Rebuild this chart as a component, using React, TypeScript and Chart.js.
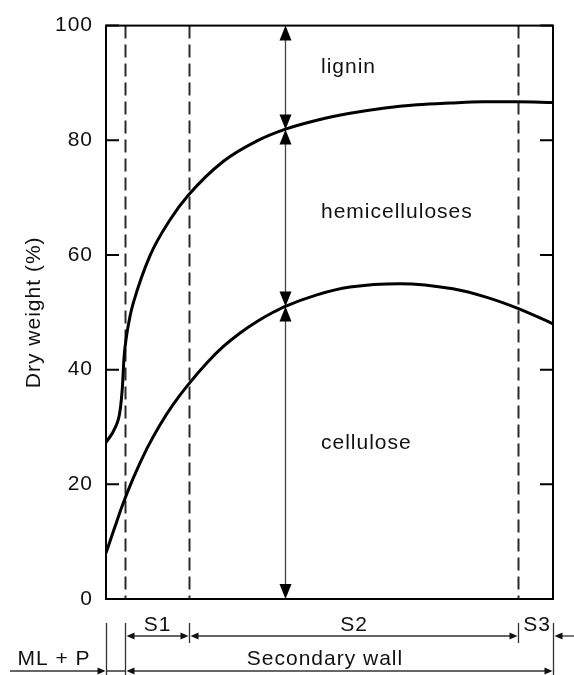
import React, { useEffect, useRef } from 'react';
import { Chart, registerables } from 'chart.js';

Chart.register(...registerables);

// ---- data (x in % of wall thickness across plot, y in % dry weight) ----
const Y_TICKS = [0, 20, 40, 60, 80, 100];

const UPPER_X = [0, 2.0, 3.1, 3.7, 4.0, 4.6, 5.4, 6.1, 9.8, 14.3, 18.4, 26.2, 33.8, 40.0, 47.2, 54.6, 62.0, 69.6, 77.0, 84.3, 91.9, 100];
const UPPER_Y = [27.3, 29.8, 32.6, 37.3, 41.8, 45.9, 49.4, 51.6, 59.8, 66.1, 70.4, 76.3, 79.9, 81.9, 83.5, 84.7, 85.6, 86.2, 86.5, 86.7, 86.7, 86.6];

const LOWER_X = [0, 2.0, 3.8, 6.0, 9.2, 12.1, 15.0, 18.3, 22.6, 26.2, 30.0, 33.8, 37.4, 40.0, 47.0, 54.6, 65.8, 77.6, 85.2, 92.4, 100];
const LOWER_Y = [8.0, 12.6, 16.6, 20.9, 26.3, 30.4, 33.9, 37.3, 41.2, 44.0, 46.4, 48.4, 50.0, 51.0, 53.0, 54.4, 55.0, 54.1, 52.6, 50.6, 48.0];

const DASH_X = [4.25, 18.6, 92.2];
const ARROW_X = 40;
const ARROW_STOPS = [100, 81.9, 51, 0];

const LAYER_LABELS = ['lignin', 'hemicelluloses', 'cellulose'];
const LAYER_LABEL_X = 48.1;
const LAYER_LABEL_Y = [92.7, 67.4, 27.1];

const ZONE_BOUNDS = [0, 4.25, 18.6, 92.2, 100];
const SUB_LABELS = ['S1', 'S2', 'S3'];
const ML_LABEL = 'ML + P';
const WALL_LABEL = 'Secondary wall';
const Y_TITLE = 'Dry weight (%)';

const FONT = '"Liberation Sans", Arial, Helvetica, sans-serif';
const TEXT_COLOR = '#111';
const SPACING = '1px';

function head(ctx: CanvasRenderingContext2D, x: number, y: number, dx: number, dy: number, len: number, hw: number) {
  const bx = x - dx * len;
  const by = y - dy * len;
  const px = -dy;
  const py = dx;
  ctx.beginPath();
  ctx.moveTo(x, y);
  ctx.lineTo(bx + px * hw, by + py * hw);
  ctx.lineTo(bx - px * hw, by - py * hw);
  ctx.closePath();
  ctx.fill();
}

const decorPlugin = {
  id: 'decor',
  beforeDraw(chart: any) {
    (chart.ctx as any).letterSpacing = SPACING;
  },
  beforeDatasetsDraw(chart: any) {
    const { ctx, chartArea, scales } = chart;
    const xs = scales.x;
    ctx.save();
    ctx.strokeStyle = '#2a2a2a';
    ctx.lineWidth = 2;
    ctx.setLineDash([13, 6]);
    DASH_X.forEach((v) => {
      const px = Math.round(xs.getPixelForValue(v)) + 0.5;
      ctx.beginPath();
      ctx.moveTo(px, chartArea.top);
      ctx.lineTo(px, chartArea.bottom);
      ctx.stroke();
    });
    ctx.restore();
  },
  afterDraw(chart: any) {
    const { ctx, chartArea, scales } = chart;
    const xs = scales.x;
    const ys = scales.y;
    const { left, right, top, bottom } = chartArea;
    ctx.save();
    (ctx as any).letterSpacing = SPACING;

    // frame
    ctx.strokeStyle = '#000';
    ctx.lineWidth = 2;
    ctx.setLineDash([]);
    ctx.strokeRect(left, top, right - left, bottom - top);

    // inward ticks
    Y_TICKS.forEach((t) => {
      const py = ys.getPixelForValue(t);
      ctx.beginPath();
      ctx.moveTo(left, py);
      ctx.lineTo(left + 13, py);
      ctx.moveTo(right, py);
      ctx.lineTo(right - 13, py);
      ctx.stroke();
    });

    // vertical double arrows
    const ax = Math.round(xs.getPixelForValue(ARROW_X)) + 0.5;
    ctx.strokeStyle = '#444';
    ctx.fillStyle = '#000';
    ctx.lineWidth = 1.3;
    for (let i = 0; i < ARROW_STOPS.length - 1; i++) {
      const y1 = ys.getPixelForValue(ARROW_STOPS[i]);
      const y2 = ys.getPixelForValue(ARROW_STOPS[i + 1]);
      ctx.beginPath();
      ctx.moveTo(ax, y1 + 8);
      ctx.lineTo(ax, y2 - 8);
      ctx.stroke();
      head(ctx, ax, y1, 0, -1, 15, 6);
      head(ctx, ax, y2, 0, 1, 15, 6);
    }

    // layer labels
    ctx.fillStyle = TEXT_COLOR;
    ctx.font = `21px ${FONT}`;
    ctx.textAlign = 'left';
    ctx.textBaseline = 'middle';
    LAYER_LABELS.forEach((s, i) => {
      ctx.fillText(s, xs.getPixelForValue(LAYER_LABEL_X), ys.getPixelForValue(LAYER_LABEL_Y[i]));
    });

    // y title
    ctx.save();
    ctx.translate(34, (top + bottom) / 2);
    ctx.rotate(-Math.PI / 2);
    ctx.textAlign = 'center';
    ctx.textBaseline = 'middle';
    ctx.fillText(Y_TITLE, 0, 0);
    ctx.restore();

    // bottom annotations
    const bx = ZONE_BOUNDS.map((v) => Math.round(xs.getPixelForValue(v)) + 0.5);
    const H = chart.height;
    const yTop = bottom + 24;
    const ySub = bottom + 37;
    const yWall = bottom + 72;
    ctx.strokeStyle = '#333';
    ctx.fillStyle = '#111';
    ctx.lineWidth = 1.3;
    [bx[0], bx[1], bx[4]].forEach((x) => {
      ctx.beginPath();
      ctx.moveTo(x, yTop);
      ctx.lineTo(x, H);
      ctx.stroke();
    });
    [bx[2], bx[3]].forEach((x) => {
      ctx.beginPath();
      ctx.moveTo(x, yTop);
      ctx.lineTo(x, yTop + 20);
      ctx.stroke();
    });
    const hl = 8;
    const hw = 3.5;
    for (let i = 1; i <= 2; i++) {
      const x1 = bx[i];
      const x2 = bx[i + 1];
      ctx.beginPath();
      ctx.moveTo(x1 + 4, ySub);
      ctx.lineTo(x2 - 4, ySub);
      ctx.stroke();
      head(ctx, x1 + 1, ySub, -1, 0, hl, hw);
      head(ctx, x2 - 1, ySub, 1, 0, hl, hw);
    }
    ctx.beginPath();
    ctx.moveTo(chart.width, ySub);
    ctx.lineTo(bx[4] + 4, ySub);
    ctx.stroke();
    head(ctx, bx[4] + 1, ySub, -1, 0, hl, hw);

    ctx.beginPath();
    ctx.moveTo(10, yWall);
    ctx.lineTo(bx[0] - 4, yWall);
    ctx.moveTo(bx[0], yWall);
    ctx.lineTo(bx[1], yWall);
    ctx.stroke();
    head(ctx, bx[0] - 1, yWall, 1, 0, hl, hw);
    ctx.beginPath();
    ctx.moveTo(bx[1] + 4, yWall);
    ctx.lineTo(bx[4] - 4, yWall);
    ctx.stroke();
    head(ctx, bx[1] + 1, yWall, -1, 0, hl, hw);
    head(ctx, bx[4] - 1, yWall, 1, 0, hl, hw);

    // bottom labels
    ctx.fillStyle = TEXT_COLOR;
    ctx.font = `21px ${FONT}`;
    ctx.textAlign = 'center';
    ctx.textBaseline = 'middle';
    SUB_LABELS.forEach((s, i) => {
      const cx = i === 2 ? (bx[3] + bx[4]) / 2 + 1 : (bx[i + 1] + bx[i + 2]) / 2;
      ctx.fillText(s, cx, bottom + 26);
    });
    ctx.fillText(ML_LABEL, 54, bottom + 60);
    ctx.fillText(WALL_LABEL, 325, bottom + 60);
    ctx.restore();
  },
};

export default function App() {
  const ref = useRef<HTMLCanvasElement | null>(null);
  useEffect(() => {
    if (!ref.current) return;
    const chart = new Chart(ref.current, {
      type: 'line',
      data: {
        datasets: [
          {
            label: 'cellulose + hemicelluloses',
            data: UPPER_X.map((x, i) => ({ x, y: UPPER_Y[i] })),
            borderColor: '#000',
            borderWidth: 3,
            pointRadius: 0,
            fill: false,
            cubicInterpolationMode: 'monotone',
          },
          {
            label: 'cellulose',
            data: LOWER_X.map((x, i) => ({ x, y: LOWER_Y[i] })),
            borderColor: '#000',
            borderWidth: 3,
            pointRadius: 0,
            fill: false,
            cubicInterpolationMode: 'monotone',
          },
        ],
      },
      options: {
        animation: false,
        responsive: false,
        devicePixelRatio: 1,
        layout: { padding: { left: 0, top: 20, right: 21, bottom: 76 } },
        plugins: { legend: { display: false }, tooltip: { enabled: false }, title: { display: false } },
        scales: {
          x: { type: 'linear', min: 0, max: 100, display: false },
          y: {
            type: 'linear',
            min: 0,
            max: 100,
            afterFit: (s: any) => {
              s.width = 106;
            },
            grid: { display: false, drawTicks: false },
            border: { display: false },
            ticks: {
              stepSize: 20,
              padding: 13,
              color: TEXT_COLOR,
              font: { family: FONT, size: 21 },
            },
          },
        },
      },
      plugins: [decorPlugin],
    } as any);
    return () => chart.destroy();
  }, []);
  return (
    <div style={{ position: 'absolute', left: 0, top: 0, width: 574, height: 675, background: '#fff' }}>
      <canvas ref={ref} width={574} height={675} style={{ width: 574, height: 675, display: 'block' }} />
    </div>
  );
}
